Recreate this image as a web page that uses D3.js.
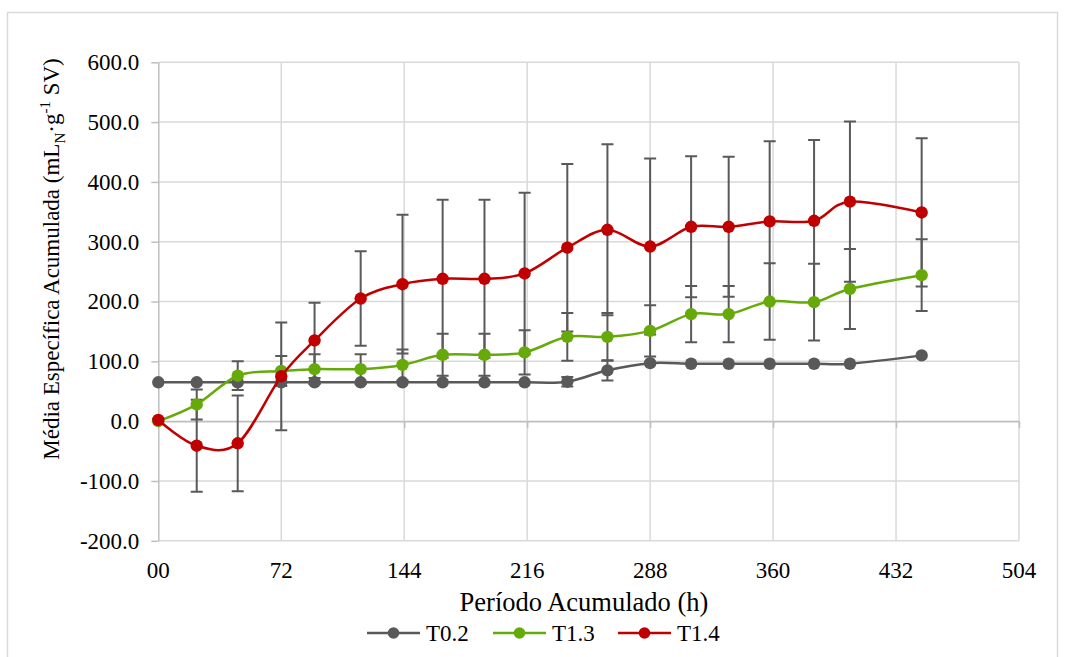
<!DOCTYPE html>
<html>
<head>
<meta charset="utf-8">
<script src="https://cdn.jsdelivr.net/npm/d3@7"></script>
<style>
  body { margin: 0; background: #fff; }
  svg text { font-family: "Liberation Serif", "Times New Roman", Times, Tinos, "DejaVu Serif", serif !important; }
</style>
</head>
<body>
<div id="chart"></div>
<script>
// Período acumulado (h)
const hours = [0, 22.5, 46.5, 72, 91.5, 118.5, 143, 166.5, 191, 214.5, 239.5, 263, 288, 312, 334, 358, 384, 405, 447];

// média específica acumulada, one list per treatment, plus the error bar half-length
const t02 = [65, 65, 65, 65, 65, 65, 65, 65, 65, 65, 66, 85, 97, 96, 96, 96, 96, 96, 110];
const t02Err = [0, 0, 0, 0, 0, 0, 0, 0, 0, 0, 8, 17, 0, 0, 0, 0, 0, 0, 0];
const t13 = [0, 28, 76, 84, 87, 87, 94, 111, 111, 115, 141, 141, 151, 179, 179, 200, 199, 221, 244];
const t13Err = [0, 25, 24, 25, 25, 25, 26, 35, 35, 37, 40, 40, 43, 47, 47, 64, 64, 67, 60];
const t14 = [2, -41, -37, 75, 135, 205, 229, 238, 238, 247, 290, 320, 292, 325, 325, 334, 335, 367, 349];
const t14Err = [0, 77, 80, 90, 63, 79, 116, 132, 132, 135, 140, 143, 147, 118, 117, 134, 135, 134, 124];

const seriesNames = ['T0.2', 'T1.3', 'T1.4'];
const xTicks = [0, 72, 144, 216, 288, 360, 432, 504];
const xTickLabels = ['00', '72', '144', '216', '288', '360', '432', '504'];
const yTicks = [-200, -100, 0, 100, 200, 300, 400, 500, 600];

const width = 1065;
const height = 657;

const series = [
  { name: seriesNames[0], values: t02, err: t02Err, color: '#595959' },
  { name: seriesNames[1], values: t13, err: t13Err, color: '#66AA0A' },
  { name: seriesNames[2], values: t14, err: t14Err, color: '#C00000' },
];

const x = d3.scaleLinear().domain([0, 504]).range([158.3, 1019]);
const y = d3.scaleLinear().domain([-200, 600]).range([540.8, 62.3]);

const svg = d3
  .select('#chart')
  .append('svg')
  .attr('width', width)
  .attr('height', height);

// chart frame
svg
  .append('rect')
  .attr('x', 7.5)
  .attr('y', 12.5)
  .attr('width', 1050)
  .attr('height', 660)
  .attr('fill', 'none')
  .attr('stroke', '#D9D9D9')
  .attr('stroke-width', 1.5);

// gridlines
const grid = svg.append('g').attr('stroke', '#D9D9D9').attr('stroke-width', 1.5);
grid
  .selectAll('.hgrid')
  .data(yTicks)
  .join('line')
  .attr('x1', x(0))
  .attr('x2', x(504))
  .attr('y1', (d) => y(d))
  .attr('y2', (d) => y(d));
grid
  .selectAll('.vgrid')
  .data(xTicks.slice(1))
  .join('line')
  .attr('x1', (d) => x(d))
  .attr('x2', (d) => x(d))
  .attr('y1', y(600))
  .attr('y2', y(-200));

// y axis
const yAxis = svg
  .append('g')
  .attr('transform', `translate(${x(0)},0)`)
  .call(
    d3
      .axisLeft(y)
      .tickValues(yTicks)
      .tickFormat((d) => d.toFixed(1))
      .tickSize(7)
      .tickSizeOuter(0)
      .tickPadding(12)
  );
yAxis.attr('font-family', null);
yAxis.select('.domain').attr('stroke', '#BFBFBF').attr('stroke-width', 1.5);
yAxis.selectAll('.tick line').attr('stroke', '#BFBFBF').attr('stroke-width', 1.5);
yAxis.selectAll('.tick text').attr('fill', '#000').attr('font-size', 23);

// x axis sits on the zero line, labels go below the plot
const xAxis = svg
  .append('g')
  .attr('transform', `translate(0,${y(0)})`)
  .call(d3.axisBottom(x).tickValues(xTicks).tickFormat('').tickSize(7).tickSizeOuter(0));
xAxis.select('.domain').attr('stroke', '#BFBFBF').attr('stroke-width', 1.5);
xAxis.selectAll('.tick line').attr('stroke', '#BFBFBF').attr('stroke-width', 1.5);

svg
  .append('g')
  .selectAll('text')
  .data(xTicks)
  .join('text')
  .attr('x', (d) => x(d))
  .attr('y', 577.5)
  .attr('text-anchor', 'middle')
  .attr('font-size', 23)
  .text((d, i) => xTickLabels[i]);

// axis titles
svg
  .append('text')
  .attr('x', 584)
  .attr('y', 611)
  .attr('text-anchor', 'middle')
  .attr('font-size', 26.5)
  .text('Período Acumulado (h)');

const yTitle = svg
  .append('text')
  .attr('transform', 'translate(59,259) rotate(-90)')
  .attr('text-anchor', 'middle')
  .attr('font-size', 23);
yTitle.append('tspan').text('Média Específica Acumulada (mL');
yTitle.append('tspan').attr('font-size', 15).attr('dy', 6).text('N');
yTitle.append('tspan').attr('dy', -6).text('·g');
yTitle.append('tspan').attr('font-size', 15).attr('dy', -9).text('-1');
yTitle.append('tspan').attr('dy', 9).text(' SV)');

// error bars (all drawn in dark grey, beneath the series)
const errG = svg
  .append('g')
  .attr('stroke', '#595959')
  .attr('stroke-width', 2)
  .attr('fill', 'none');
series.forEach((s) => {
  const pts = hours
    .map((h, i) => ({ h, v: s.values[i], e: s.err[i] }))
    .filter((d) => d.e > 0);
  const g = errG.append('g');
  g.selectAll('.bar')
    .data(pts)
    .join('path')
    .attr(
      'd',
      (d) =>
        `M${x(d.h)},${y(d.v + d.e)}V${y(d.v - d.e)}` +
        `M${x(d.h) - 6},${y(d.v + d.e)}H${x(d.h) + 6}` +
        `M${x(d.h) - 6},${y(d.v - d.e)}H${x(d.h) + 6}`
    );
});

// lines and markers
const line = d3
  .line()
  .x((d) => x(d.h))
  .y((d) => y(d.v))
  .curve(d3.curveCardinal.tension(0));

series.forEach((s) => {
  const pts = hours.map((h, i) => ({ h, v: s.values[i] }));
  const g = svg.append('g');
  g.append('path')
    .datum(pts)
    .attr('d', line)
    .attr('fill', 'none')
    .attr('stroke', s.color)
    .attr('stroke-width', 2.5);
  g.selectAll('circle')
    .data(pts)
    .join('circle')
    .attr('cx', (d) => x(d.h))
    .attr('cy', (d) => y(d.v))
    .attr('r', 6.2)
    .attr('fill', s.color);
});

// legend
const legendX = [367, 493, 618];
const legend = svg
  .append('g')
  .selectAll('g')
  .data(series)
  .join('g')
  .attr('transform', (d, i) => `translate(${legendX[i]},633)`);
legend
  .append('line')
  .attr('x1', 0)
  .attr('x2', 53)
  .attr('stroke', (d) => d.color)
  .attr('stroke-width', 2.5);
legend
  .append('circle')
  .attr('cx', 26.5)
  .attr('r', 5.8)
  .attr('fill', (d) => d.color);
legend
  .append('text')
  .attr('x', 59)
  .attr('y', 8)
  .attr('font-size', 23)
  .text((d) => d.name);
</script>
</body>
</html>
